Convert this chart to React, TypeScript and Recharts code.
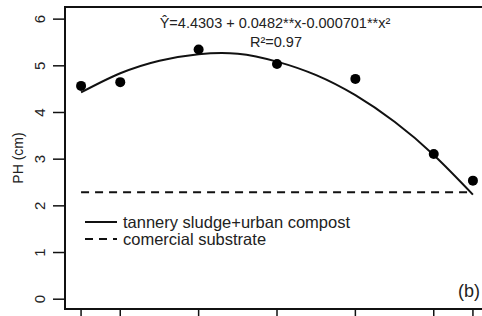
import React from "react";
import {
  ComposedChart,
  XAxis,
  YAxis,
  Line,
  Scatter,
  ReferenceArea,
  Legend,
  Label,
} from "recharts";

// observed PH per dose (%)
const doses = [0, 10, 30, 50, 70, 90, 100];
const observedPH = [4.57, 4.65, 5.35, 5.04, 4.72, 3.11, 2.54];

// fitted curve
const fitDoses = [0, 10, 20, 30, 40, 50, 60, 70, 80, 90, 100];
const fitPH = [4.43, 4.84, 5.11, 5.25, 5.26, 5.09, 4.8, 4.37, 3.8, 3.09, 2.24];

// commercial substrate level
const refDoses = [0, 100];
const refPH = [2.29, 2.29];

const yTicks = [0, 1, 2, 3, 4, 5, 6];

const FONT = "'Liberation Sans', Arial, sans-serif";

const obsData = doses.map((x, i) => ({ x, ph: observedPH[i] }));
const fitData = fitDoses.map((x, i) => ({ x, ph: fitPH[i] }));
const refData = refDoses.map((x, i) => ({ x, ph: refPH[i] }));

const legendItems = [
  { label: "tannery sludge+urban compost", dash: undefined },
  { label: "comercial substrate", dash: "8 6" },
];

function YTick(props: any) {
  const { y, payload } = props;
  return (
    <text
      x={40}
      y={y}
      transform={`rotate(-90, 40, ${y})`}
      textAnchor="middle"
      dominantBaseline="central"
      fontSize={15}
      fontFamily={FONT}
      fill="#222"
    >
      {payload.value}
    </text>
  );
}

function LegendBox() {
  return (
    <svg width={300} height={40}>
      {legendItems.map((it, i) => (
        <g key={it.label}>
          <line
            x1={0}
            x2={32}
            y1={9 + i * 17}
            y2={9 + i * 17}
            stroke="#111"
            strokeWidth={2}
            strokeDasharray={it.dash}
          />
          <text
            x={38}
            y={9 + i * 17}
            dominantBaseline="central"
            fontSize={16.5}
            fontFamily={FONT}
            fill="#222"
          >
            {it.label}
          </text>
        </g>
      ))}
    </svg>
  );
}

export default function App() {
  return (
    <div
      style={{
        position: "absolute",
        left: 0,
        top: 0,
        width: 482,
        height: 316,
        overflow: "hidden",
        background: "#fff",
      }}
    >
      <ComposedChart
        width={500}
        height={330}
        margin={{ top: 7, right: 11, bottom: 0, left: 0 }}
      >
        <XAxis
          dataKey="x"
          type="number"
          domain={[-4.1, 104.1]}
          ticks={doses}
          allowDataOverflow
          height={21}
          axisLine={false}
          tickLine={{ stroke: "#111", strokeWidth: 1.5 }}
          tickSize={9}
          tick={() => <g />}
        />
        <YAxis
          type="number"
          domain={[-0.21, 6.26]}
          ticks={yTicks}
          allowDataOverflow
          width={65}
          axisLine={false}
          tickLine={{ stroke: "#111", strokeWidth: 1.5 }}
          tickSize={12}
          tick={<YTick />}
        >
          <Label
            content={() => (
              <text
                x={18}
                y={158}
                transform="rotate(-90, 18, 158)"
                textAnchor="middle"
                dominantBaseline="central"
                fontSize={14}
                fontFamily={FONT}
                fill="#222"
              >
                PH (cm)
              </text>
            )}
          />
        </YAxis>
        <ReferenceArea
          x1={-4.1}
          x2={104.1}
          y1={-0.21}
          y2={6.26}
          fill="none"
          stroke="#111"
          strokeWidth={2}
          ifOverflow="visible"
        />
        <Line
          data={refData}
          dataKey="ph"
          stroke="#111"
          strokeWidth={2}
          strokeDasharray="8 6"
          dot={false}
          isAnimationActive={false}
        />
        <Line
          data={fitData}
          dataKey="ph"
          type="natural"
          stroke="#111"
          strokeWidth={2}
          dot={false}
          isAnimationActive={false}
        />
        <Scatter
          data={obsData}
          dataKey="ph"
          fill="#000"
          isAnimationActive={false}
          shape={(p: any) => <circle cx={p.cx} cy={p.cy} r={5} fill="#000" />}
        />
        <Legend
          layout="horizontal"
          verticalAlign="middle"
          content={() => <LegendBox />}
          wrapperStyle={{ left: 85, top: 213, width: 300, height: 40 }}
        />
      </ComposedChart>
      <svg
        width={482}
        height={316}
        style={{ position: "absolute", left: 0, top: 0, pointerEvents: "none" }}
      >
        <text
          x={275}
          y={23}
          textAnchor="middle"
          dominantBaseline="central"
          fontSize={14.5}
          fontFamily={FONT}
          fill="#222"
        >
          Ŷ=4.4303 + 0.0482**x-0.000701**x²
        </text>
        <text
          x={276}
          y={42}
          textAnchor="middle"
          dominantBaseline="central"
          fontSize={14.5}
          fontFamily={FONT}
          fill="#222"
        >
          R²=0.97
        </text>
        <text
          x={458}
          y={291}
          dominantBaseline="central"
          fontSize={18}
          fontFamily={FONT}
          fill="#222"
        >
          (b)
        </text>
      </svg>
    </div>
  );
}
